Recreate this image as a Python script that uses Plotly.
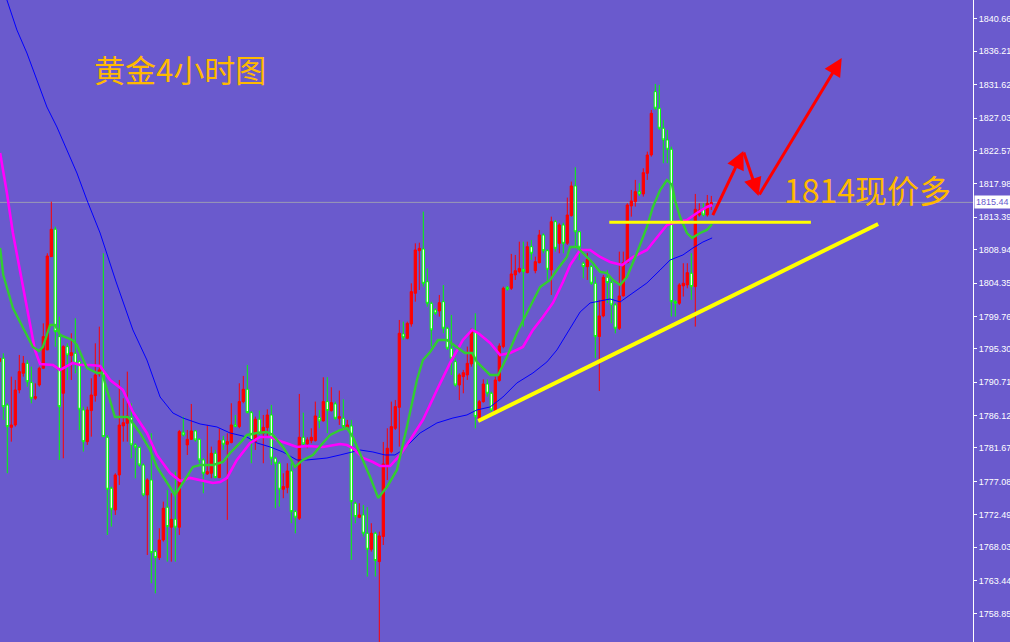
import plotly.graph_objects as go

# ---------------- data (4h candles, index = bar number) ----------------
candle_idx = list(range(-1, 178))
opens = [1793.54,
 1794.00,1787.58,1784.51,1784.83,1789.65,1791.94,1793.31,1790.66,1788.50,1790.33,
 1792.63,1795.15,1807.98,1811.74,1796.98,1789.19,1795.60,1794.37,1794.69,1793.54,
 1786.90,1782.54,1786.81,1788.87,1791.85,1792.40,1783.14,1776.13,1773.15,1777.96,
 1784.70,1785.06,1785.89,1782.09,1781.76,1779.33,1775.21,1777.27,1767.42,1766.59,
 1769.02,1773.52,1770.77,1771.87,1770.77,1783.83,1782.09,1782.86,1784.01,1782.86,
 1780.03,1778.10,1778.19,1780.94,1777.60,1782.78,1782.18,1782.41,1784.84,1784.61,
 1788.05,1789.74,1786.53,1782.55,1785.62,1783.69,1784.47,1786.21,1780.26,1779.57,
 1775.99,1776.22,1778.51,1772.92,1772.01,1783.14,1782.23,1782.68,1782.68,1785.85,
 1785.39,1788.05,1786.81,1787.73,1785.75,1785.75,1784.52,1784.70,1774.07,1772.14,
 1772.46,1769.94,1767.74,1769.94,1766.05,1769.49,1779.34,1781.17,1784.38,1787.26,
 1797.35,1796.75,1798.72,1802.94,1808.80,1809.03,1804.54,1801.56,1800.65,1800.51,
 1801.79,1798.13,1795.38,1793.54,1790.33,1791.48,1791.71,1793.22,1797.67,1785.75,
 1788.04,1790.47,1789.19,1786.81,1790.93,1795.61,1803.76,1803.63,1805.46,1805.92,
 1806.24,1805.78,1809.35,1806.05,1807.15,1810.96,1808.80,1806.15,1812.79,1809.81,
 1812.33,1809.82,1813.62,1817.70,1811.40,1807.07,1806.60,1806.61,1804.32,1796.99,
 1799.83,1805.14,1804.41,1801.34,1798.13,1802.58,1807.16,1814.95,1815.55,1816.92,
 1816.60,1819.44,1821.96,1830.67,1828.38,1825.63,1824.03,1822.74,1801.80,1801.57,
 1803.95,1804.09,1805.69,1803.86,1813.71,1814.49,1813.71,1815.18]
highs = [1794.50,
 1794.69,1787.81,1791.48,1791.02,1794.46,1794.32,1793.77,1792.85,1790.56,1792.85,
 1798.81,1808.44,1815.54,1812.10,1799.73,1795.80,1796.06,1797.44,1799.50,1793.77,
 1787.35,1787.35,1791.25,1796.06,1798.35,1808.44,1783.46,1776.36,1778.19,1791.02,
 1788.50,1792.17,1787.81,1782.31,1781.86,1779.56,1777.50,1783.69,1767.65,1770.63,
 1774.29,1775.90,1775.44,1778.42,1784.15,1785.98,1784.15,1787.72,1784.15,1783.00,
 1780.26,1784.84,1781.86,1781.40,1784.38,1783.33,1783.69,1787.82,1786.21,1790.57,
 1791.58,1793.09,1786.76,1785.98,1786.81,1786.21,1786.99,1787.59,1780.48,1779.80,
 1778.19,1779.57,1779.57,1773.15,1789.10,1786.53,1783.14,1784.38,1788.05,1786.90,
 1791.39,1791.39,1790.02,1788.05,1789.56,1788.37,1785.53,1785.53,1774.30,1774.07,
 1773.84,1773.52,1771.32,1770.17,1770.17,1782.50,1784.38,1788.04,1788.27,1799.27,
 1799.04,1799.04,1804.31,1809.81,1809.90,1814.17,1806.37,1801.79,1800.88,1802.71,
 1804.08,1798.35,1799.96,1794.00,1791.94,1792.40,1795.61,1798.13,1800.19,1788.27,
 1791.11,1791.11,1789.42,1791.48,1796.06,1803.85,1803.95,1808.35,1808.21,1810.04,
 1810.04,1810.04,1810.27,1807.98,1811.65,1811.19,1808.99,1813.48,1813.02,1812.56,
 1812.65,1816.10,1818.30,1820.27,1811.50,1807.30,1808.50,1806.84,1805.24,1802.03,
 1805.46,1806.15,1804.78,1801.57,1808.67,1808.67,1815.32,1817.15,1818.53,1818.07,
 1820.13,1822.42,1828.15,1831.73,1831.59,1826.78,1825.40,1823.11,1802.03,1804.32,
 1807.07,1807.07,1808.44,1816.60,1815.32,1815.32,1816.46,1816.33]
lows = [1792.50,
 1785.52,1778.19,1782.54,1784.61,1789.19,1791.48,1790.10,1787.81,1788.27,1790.10,
 1792.63,1795.15,1807.98,1795.60,1780.02,1780.25,1791.02,1791.02,1791.94,1784.15,
 1781.17,1782.09,1783.23,1788.04,1791.48,1783.23,1769.71,1770.86,1772.46,1776.59,
 1782.54,1782.54,1780.25,1777.50,1779.10,1774.98,1766.96,1763.06,1761.69,1766.27,
 1768.79,1766.04,1766.04,1766.04,1769.71,1783.23,1780.71,1782.77,1782.54,1779.56,
 1775.44,1777.96,1777.51,1777.51,1777.51,1781.40,1771.78,1782.32,1784.52,1784.38,
 1787.82,1786.44,1779.57,1781.40,1783.46,1779.57,1783.23,1779.34,1773.38,1773.61,
 1774.76,1775.44,1771.32,1769.94,1771.78,1781.86,1781.63,1782.32,1782.55,1784.38,
 1785.30,1783.69,1786.67,1785.53,1784.84,1784.38,1784.38,1766.28,1771.32,1772.01,
 1769.48,1763.99,1767.42,1763.99,1755.00,1768.33,1777.27,1780.94,1784.15,1781.86,
 1796.52,1796.61,1798.35,1801.79,1803.40,1803.85,1801.10,1795.61,1799.96,1799.73,
 1797.44,1795.15,1791.71,1790.10,1788.27,1789.19,1791.02,1792.85,1784.38,1785.52,
 1787.90,1788.73,1786.67,1786.44,1790.79,1795.38,1803.30,1803.40,1804.77,1805.69,
 1798.35,1805.69,1807.52,1805.69,1807.06,1808.44,1804.77,1802.71,1808.67,1808.44,
 1808.44,1809.59,1813.48,1809.35,1807.50,1805.01,1804.78,1804.09,1794.01,1789.50,
 1799.64,1801.57,1798.82,1797.44,1797.90,1802.49,1807.07,1813.48,1814.86,1816.33,
 1816.24,1818.53,1821.73,1828.15,1825.40,1820.82,1820.82,1799.74,1799.74,1801.34,
 1802.49,1803.63,1802.03,1798.36,1813.48,1813.48,1813.48,1814.40]
closes = [1793.99,
 1787.35,1784.61,1784.83,1789.65,1792.17,1793.31,1790.79,1788.50,1788.73,1792.63,
 1796.98,1808.07,1811.74,1797.67,1787.35,1795.60,1794.46,1794.78,1793.31,1786.99,
 1782.54,1786.90,1788.96,1791.71,1792.40,1783.23,1775.99,1773.24,1777.96,1784.83,
 1785.15,1786.07,1782.09,1781.76,1779.33,1775.21,1777.27,1767.28,1766.59,1769.02,
 1773.38,1770.86,1771.87,1770.77,1783.92,1783.46,1782.86,1784.01,1782.77,1780.02,
 1778.19,1778.42,1780.94,1777.60,1782.68,1782.18,1782.55,1784.84,1784.61,1788.05,
 1789.74,1786.53,1782.55,1785.62,1783.69,1784.52,1786.21,1780.26,1779.57,1775.99,
 1776.36,1778.51,1772.92,1772.14,1783.14,1782.23,1782.78,1783.14,1786.08,1785.39,
 1788.05,1786.81,1787.91,1785.75,1785.98,1784.61,1784.84,1774.30,1772.24,1772.46,
 1769.94,1767.74,1769.94,1766.19,1769.58,1779.48,1781.63,1784.61,1787.36,1797.44,
 1796.89,1798.81,1803.17,1808.90,1809.12,1804.31,1801.56,1797.90,1800.19,1801.65,
 1798.13,1795.38,1794.00,1790.33,1791.71,1792.03,1793.31,1797.80,1785.98,1788.04,
 1790.47,1789.19,1786.90,1791.02,1795.70,1803.63,1803.49,1805.60,1806.05,1806.37,
 1805.92,1809.35,1808.44,1807.29,1810.96,1808.80,1806.24,1812.79,1809.12,1812.33,
 1809.81,1813.71,1817.70,1811.40,1809.27,1806.61,1807.60,1804.32,1796.99,1799.83,
 1805.14,1804.41,1801.34,1798.13,1802.58,1807.16,1815.09,1815.64,1816.92,1816.60,
 1819.53,1821.96,1827.69,1828.38,1825.63,1824.03,1822.74,1801.80,1801.57,1804.09,
 1804.32,1805.78,1803.86,1814.49,1814.40,1813.71,1815.32,1815.41]

# moving averages (bar position, price)
green_ma_idx = [-0.8,0,2.4,4.9,7.4,8.9,9.9,11.7,12.9,14.2,17.2,18.4,20.9,23.4,24.7,27.9,31.2,34.2,36.7,38.4,
 40.9,42.9,44.9,47.4,49.2,52.4,54.9,56.7,59.2,60.9,63.4,65.9,67.4,69.9,71.7,72.9,74.9,77.4,79.9,81.7,
 84.2,85.9,87.4,89.2,91.7,93.7,95.9,98.4,100.9,103.4,104.9,106.7,108.7,110.9,113.4,115.4,117.2,118.4,121.7,123.7,
 125.9,128.4,130.9,134.2,136.7,138.4,140.9,141.7,143.4,145.9,147.4,149.2,150.9,152.4,154.2,155.9,158.4,160.9,162.4,164.2,
 165.9,167.2,167.9,169.2,170.9,172.2,174.2,175.9,177.2]
green_ma_val = [1809.17,1805.46,1800.92,1798.31,1795.56,1795.01,1795.56,1798.58,1798.58,1797.21,1796.52,1795.83,1792.67,1791.98,1791.98,1785.93,1785.93,1783.73,1781.39,1779.06,
 1776.86,1775.21,1776.86,1779.06,1779.33,1779.33,1779.74,1780.98,1782.36,1783.46,1783.73,1783.87,1783.46,1781.81,1780.29,1779.06,1780.02,1780.71,1782.36,1783.46,
 1784.14,1784.42,1783.18,1780.98,1777.68,1774.80,1776.31,1778.65,1784.56,1791.02,1793.77,1794.87,1796.52,1796.52,1795.56,1794.73,1794.73,1793.50,1791.71,1791.71,
 1794.18,1797.48,1800.23,1803.81,1804.77,1806.14,1807.93,1809.31,1809.31,1807.93,1807.11,1805.87,1805.73,1804.77,1804.08,1805.18,1808.48,1812.06,1814.81,1817.14,
 1818.52,1817.83,1815.77,1813.43,1811.23,1810.55,1811.23,1811.65,1812.47]

magenta_ma_idx = [-0.8,0.9,2.4,4.2,6.7,7.9,9.2,12.4,14.2,17.4,19.2,21.7,24.2,26.7,29.9,32.4,35.9,38.4,41.7,44.2,
 46.7,49.2,52.4,54.2,55.9,58.4,61.7,64.2,66.7,69.2,71.7,73.4,75.9,79.9,84.2,85.9,87.4,89.9,92.4,94.2,
 96.7,99.2,101.7,104.9,108.4,111.7,114.9,117.2,118.7,121.7,124.2,126.7,129.9,132.4,134.9,137.4,139.9,141.7,144.2,146.7,
 149.2,151.7,154.7,157.4,160.9,163.4,165.9,168.4,170.9,173.4,175.9,177.2]
magenta_ma_val = [1822.23,1816.73,1811.23,1805.87,1798.86,1795.15,1793.22,1793.08,1792.40,1793.36,1793.08,1793.08,1792.94,1791.02,1789.65,1786.62,1783.73,1780.71,1778.23,1777.13,
 1777.55,1777.27,1776.86,1776.99,1777.55,1780.02,1782.36,1783.18,1783.18,1782.63,1782.08,1781.81,1781.94,1781.81,1782.22,1782.08,1781.67,1780.29,1779.74,1779.19,
 1779.19,1780.71,1782.77,1785.52,1789.65,1793.36,1796.52,1797.90,1797.48,1796.11,1794.46,1794.73,1795.56,1797.90,1799.68,1801.61,1804.50,1806.83,1808.89,1808.89,
 1807.93,1807.24,1806.83,1807.93,1808.89,1810.68,1812.33,1812.74,1813.02,1813.98,1814.81,1815.09]

blue_ma_idx = [0.4,3.4,5.9,8.4,10.9,13.4,15.9,18.4,20.9,24.2,28.2,32.4,35.9,39.2,42.4,44.9,49.2,53.4,56.7,60.9,
 63.4,66.7,69.9,73.4,75.9,80.9,84.2,89.2,92.4,95.4,97.9,99.9,104.2,108.4,112.4,115.9,118.4,121.7,124.9,128.4,
 132.4,135.9,138.4,141.7,144.2,146.7,149.9,151.7,154.2,157.4,160.9,164.2,166.7,169.9,172.4,174.9,177.2]
blue_ma_val = [1844.10,1839.15,1835.98,1832.27,1828.56,1825.81,1822.65,1819.48,1815.77,1811.23,1804.50,1797.90,1793.77,1788.68,1786.48,1785.79,1784.97,1784.56,1783.73,1783.18,
 1782.36,1781.81,1781.12,1780.02,1780.02,1780.29,1780.71,1781.39,1781.12,1780.71,1780.71,1781.39,1783.73,1785.11,1785.79,1786.21,1786.90,1787.31,1788.68,1790.61,
 1791.98,1793.50,1795.15,1798.17,1800.37,1801.61,1802.02,1802.16,1801.75,1802.98,1804.36,1806.14,1807.52,1808.21,1809.17,1809.99,1810.55]

price_ticks = [1758.85,1763.44,1768.03,1772.49,1777.08,1781.67,1786.12,1790.71,1795.30,1799.76,
               1804.35,1808.94,1813.39,1817.98,1822.57,1827.03,1831.62,1836.21,1840.66]
current_price = 1815.44

# drawn annotations (bar position, price)
trend_line = [(118.7, 1785.38), (218.7, 1812.47)]
support_line = [(151.5, 1812.70), (201.9, 1812.70)]
arrow_path = [(177.2, 1813.47), (185.0, 1822.50), (188.8, 1816.32), (209.6, 1835.30)]

title_text = "黄金4小时图"
call_text = "1814现价多"

BG = "#6a5acd"
ORANGE = "#ffb900"
AXIS_FONT = "Liberation Sans, Arial, sans-serif"

fig = go.Figure()
fig.add_trace(go.Candlestick(
    x=candle_idx, open=opens, high=highs, low=lows, close=closes,
    increasing=dict(line=dict(color="#ff0000", width=1), fillcolor="#ff0000"),
    decreasing=dict(line=dict(color="#00ff00", width=1), fillcolor="#ffffff"),
    whiskerwidth=0, showlegend=False, hoverinfo="skip"))

fig.add_trace(go.Scatter(x=blue_ma_idx, y=blue_ma_val, mode="lines",
                         line=dict(color="#0000ff", width=1), showlegend=False, hoverinfo="skip"))
fig.add_trace(go.Scatter(x=magenta_ma_idx, y=magenta_ma_val, mode="lines",
                         line=dict(color="#ff00ff", width=2.6), showlegend=False, hoverinfo="skip"))
fig.add_trace(go.Scatter(x=green_ma_idx, y=green_ma_val, mode="lines",
                         line=dict(color="#32cd32", width=2.4), showlegend=False, hoverinfo="skip"))

shapes = [
    dict(type="line", xref="paper", x0=0, x1=1, yref="y", y0=current_price, y1=current_price,
         line=dict(color="#9a9ab4", width=1), layer="below"),
    dict(type="line", xref="x", yref="y", x0=trend_line[0][0], y0=trend_line[0][1],
         x1=trend_line[1][0], y1=trend_line[1][1], line=dict(color="#ffff00", width=4)),
    dict(type="line", xref="x", yref="y", x0=support_line[0][0], y0=support_line[0][1],
         x1=support_line[1][0], y1=support_line[1][1], line=dict(color="#ffff00", width=3)),
]

annotations = []
for (x0, y0), (x1, y1) in zip(arrow_path[:-1], arrow_path[1:]):
    annotations.append(dict(x=x1, y=y1, ax=x0, ay=y0, xref="x", yref="y", axref="x", ayref="y",
                            text="", showarrow=True, arrowhead=2, arrowsize=1.2,
                            arrowwidth=3, arrowcolor="#ff0000"))
annotations += [
    dict(xref="paper", yref="paper", x=92/973, y=1-68/642, xanchor="left", yanchor="middle",
         text=title_text, showarrow=False,
         font=dict(family="Noto Sans CJK SC", size=31, color=ORANGE)),
    dict(xref="paper", yref="paper", x=782/973, y=1-189/642, xanchor="left", yanchor="middle",
         text=call_text, showarrow=False,
         font=dict(family="Noto Sans CJK SC", size=32, color=ORANGE)),
    dict(xref="paper", yref="y", x=1, y=current_price, xanchor="left", yanchor="middle", xshift=1,
         text=f"{current_price:.2f}", showarrow=False, bgcolor="#ffffff", borderpad=1,
         font=dict(family=AXIS_FONT, size=9, color=BG)),
]

fig.update_layout(
    width=1010, height=642,
    margin=dict(l=0, r=37, t=0, b=0, autoexpand=False),
    paper_bgcolor=BG, plot_bgcolor=BG,
    shapes=shapes, annotations=annotations,
    boxgap=0.2,
    xaxis=dict(range=[-0.825, 242.42], visible=False, showgrid=False, automargin=False,
               rangeslider=dict(visible=False)),
    yaxis=dict(side="right", range=[1754.99, 1843.27], tickvals=price_ticks,
               ticktext=[f"{v:.2f}" for v in price_ticks], automargin=False,
               showgrid=False, zeroline=False, showline=True, linecolor="#ffffff", linewidth=1,
               ticks="outside", ticklen=3, tickcolor="#ffffff",
               tickfont=dict(family=AXIS_FONT, size=9, color="#ffffff")),
)

fig.write_html("out.html", config={"displayModeBar": False},
               post_script="document.body.style.margin='0';")
